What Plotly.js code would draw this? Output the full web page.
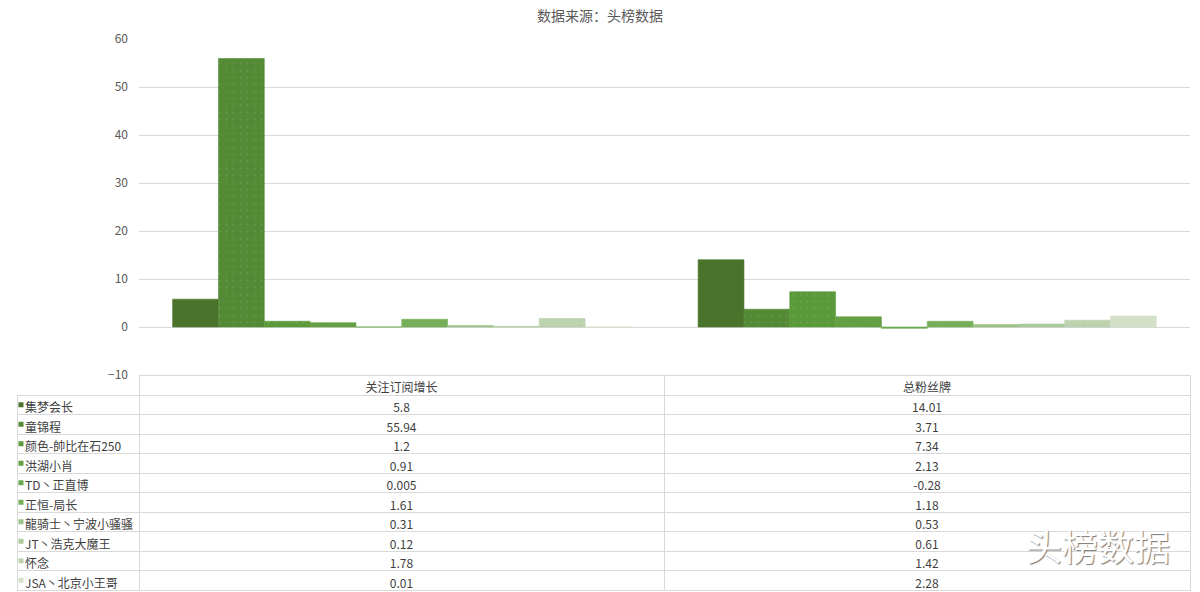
<!DOCTYPE html>
<html>
<head>
<meta charset="utf-8">
<script src="https://cdn.plot.ly/plotly-3.0.1.min.js"></script>
<style>
  body { margin: 0; background: #fff; }
  #graph { width: 1200px; height: 592px; }
</style>
</head>
<body>
<div id="graph"></div>
<script>
// categories along x and the ten people
var categories = ['关注订阅增长', '总粉丝牌'];
var names = ['集梦会长', '童锦程', '颜色-帥比在石250', '洪湖小肖', 'TD丶正直博',
             '正恒-局长', '龍骑士丶宁波小骚骚', 'JT丶浩克大魔王', '怀念', 'JSA丶北京小王哥'];
var growth = [5.8, 55.94, 1.2, 0.91, 0.005, 1.61, 0.31, 0.12, 1.78, 0.01];
var fans = [14.01, 3.71, 7.34, 2.13, -0.28, 1.18, 0.53, 0.61, 1.42, 2.28];
var growthLabels = ['5.8', '55.94', '1.2', '0.91', '0.005', '1.61', '0.31', '0.12', '1.78', '0.01'];
var fansLabels = ['14.01', '3.71', '7.34', '2.13', '-0.28', '1.18', '0.53', '0.61', '1.42', '2.28'];

var colors = ['#4a742b', '#548935', '#5b9a3b', '#64a043', '#6aa84f',
              '#76ae58', '#9cc389', '#abc99c', '#bcd1ae', '#d2e0c8'];
var dotted = ['', '.', '.', '/', '', 'x', '', '.', '.', '.'];

var data = [];
names.forEach(function (n, i) {
    data.push({
        type: 'bar',
        name: n,
        x: categories,
        y: [growth[i], fans[i]],
        marker: {
            color: colors[i],
            line: {color: colors[i], width: 0.6},
            pattern: {shape: dotted[i], fgcolor: 'rgba(255,255,255,0.25)', size: 7, solidity: 0.05, fillmode: 'overlay'}
        },
        hoverinfo: 'name+y',
        showlegend: false
    });
});

// little colour keys in the first table column
data.push({
    type: 'scatter',
    mode: 'markers',
    xaxis: 'x2',
    yaxis: 'y2',
    x: names.map(function () { return 0; }),
    y: names.map(function (n, i) { return i; }),
    marker: {symbol: 'square', size: 5, color: colors},
    hoverinfo: 'skip',
    showlegend: false
});

// data table under the chart
var clear = 'rgba(0,0,0,0)';
data.push({
    type: 'table',
    domain: {x: [17 / 1200, 1190 / 1200], y: [0, 1 - 375 / 592]},
    columnwidth: [122, 525, 526],
    header: {
        values: ['', categories[0], categories[1]],
        height: 20,
        align: 'center',
        line: {color: [clear, '#d9d9d9', '#d9d9d9'], width: 1},
        fill: {color: clear},
        font: {family: 'Noto Sans CJK SC', size: 12, color: '#404040'}
    },
    cells: {
        values: [names, growthLabels, fansLabels],
        height: 19.5,
        align: ['left', 'center', 'center'],
        line: {color: '#d9d9d9', width: 1},
        fill: {color: clear},
        font: {family: 'Noto Sans CJK SC', size: 12, color: '#404040'}
    }
});

var layout = {
    width: 1200,
    height: 592,
    margin: {l: 0, r: 0, t: 0, b: 0},
    paper_bgcolor: '#ffffff',
    plot_bgcolor: 'rgba(0,0,0,0)',
    font: {family: 'Noto Sans CJK SC', color: '#595959'},
    title: {
        text: '数据来源：头榜数据',
        x: 0.5, xanchor: 'center',
        y: 1 - 16 / 592, yanchor: 'middle',
        font: {family: 'Noto Sans CJK SC', size: 14, color: '#595959'}
    },
    barmode: 'group',
    bargap: 0.128,
    bargroupgap: 0,
    xaxis: {
        domain: [139 / 1200, 1190 / 1200],
        showticklabels: false,
        showgrid: false,
        zeroline: false,
        showline: false,
        ticks: ''
    },
    yaxis: {
        domain: [1 - 375 / 592, 1 - 39 / 592],
        range: [-10, 60],
        dtick: 10,
        showgrid: true,
        gridcolor: '#d9d9d9',
        gridwidth: 1,
        zeroline: false,
        showline: false,
        ticks: '',
        ticklabelstandoff: 10,
        tickfont: {family: 'Noto Sans CJK SC', size: 12, color: '#595959'}
    },
    xaxis2: {
        domain: [17 / 1200, 25 / 1200],
        range: [-1, 1],
        visible: false,
        fixedrange: true
    },
    yaxis2: {
        domain: [1 - 590 / 592, 1 - 395 / 592],
        range: [9.5, -0.5],
        visible: false,
        fixedrange: true
    },
    annotations: [{
        text: '头榜数据',
        xref: 'paper', yref: 'paper',
        x: 1098 / 1200, y: 1 - 545 / 592,
        xanchor: 'center', yanchor: 'middle',
        showarrow: false,
        font: {family: 'Noto Sans CJK SC', size: 36, color: '#ffffff', shadow: '1px 1px 1px #777777'}
    }]
};

Plotly.newPlot('graph', data, layout, {displayModeBar: false, staticPlot: true});
</script>
</body>
</html>
